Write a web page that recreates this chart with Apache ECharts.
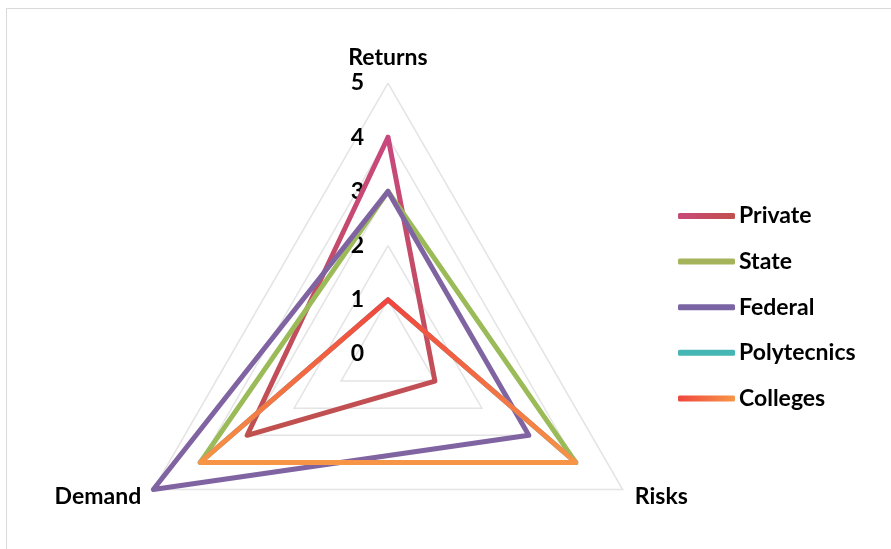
<!DOCTYPE html>
<html><head><meta charset="utf-8">
<script src="https://cdn.jsdelivr.net/npm/echarts@6/dist/echarts.min.js"></script>
<style>html,body{margin:0;padding:0;background:#fff;}#c{width:891px;height:549px;}</style>
</head><body><div id="c"></div>
<script>
var indicators = ['Returns', 'Demand', 'Risks'];
var tickMax = 5;
var seriesNames = ['Private', 'State', 'Federal', 'Polytecnics', 'Colleges'];
var privateVals = [4, 3, 1];
var stateVals = [3, 4, 4];
var federalVals = [3, 5, 3];
var polytecnicsVals = [1, 4, 4];
var collegesVals = [1, 4, 4];

var G = echarts.graphic.LinearGradient;
var vGrad = function (a, b) { return new G(0, 0, 0, 1, [{offset: 0, color: a}, {offset: 1, color: b}]); };
var hGrad = function (a, b) { return new G(0, 0, 1, 0, [{offset: 0, color: a}, {offset: 1, color: b}]); };
var lineColors = [vGrad('#c8487e', '#c0504d'), '#9bbb59', '#8064a2', '#4bacc6', vGrad('#f0443e', '#f79646')];
var legendColors = [hGrad('#c84a78', '#c0504d'), '#a5b35a', '#7b64a3', '#45b6b3', hGrad('#f0463f', '#f79646')];
var allVals = [privateVals, stateVals, federalVals, polytecnicsVals, collegesVals];

var font = 'Lato';
var chart = echarts.init(document.getElementById('c'), null, {renderer: 'canvas'});
chart.setOption({
  animation: false,
  backgroundColor: '#fff',
  graphic: [{type: 'rect', shape: {x: 6.5, y: 8.5, width: 900, height: 600}, style: {fill: 'none', stroke: '#d9d9d9', lineWidth: 1}, silent: true}],
  legend: {
    orient: 'vertical', left: 678, top: 204, padding: 0,
    itemWidth: 57, itemHeight: 6, itemGap: 21.6,
    icon: 'roundRect',
    textStyle: {fontFamily: font, fontWeight: 'bold', fontSize: 23, color: '#000', lineHeight: 24, padding: [0, 0, 0, -1]},
    data: seriesNames.map(function (n, i) { return {name: n, itemStyle: {color: legendColors[i]}}; })
  },
  radar: {
    center: [388, 354], radius: 271, startAngle: 90,
    shape: 'polygon', splitNumber: 5,
    indicator: indicators.map(function (n, i) {
      var o = {name: n, min: 0, max: tickMax};
      if (i === 0) o.axisLabel = {show: true, margin: 24, color: '#000', fontFamily: font, fontWeight: 'bold', fontSize: 23};
      return o;
    }),
    axisName: {color: '#000', fontFamily: font, fontWeight: 'bold', fontSize: 23},
    nameGap: 14,
    axisLine: {show: false},
    axisTick: {show: false},
    axisLabel: {show: false},
    splitArea: {show: false},
    splitLine: {lineStyle: {color: '#e4e4e4', width: 1.5}}
  },
  series: seriesNames.map(function (n, i) {
    return {
      type: 'radar', name: n, symbol: 'none',
      itemStyle: {color: lineColors[i]},
      lineStyle: {width: 5, color: lineColors[i], join: 'round', cap: 'round'},
      data: [{value: allVals[i], name: n}]
    };
  })
});
</script></body></html>
